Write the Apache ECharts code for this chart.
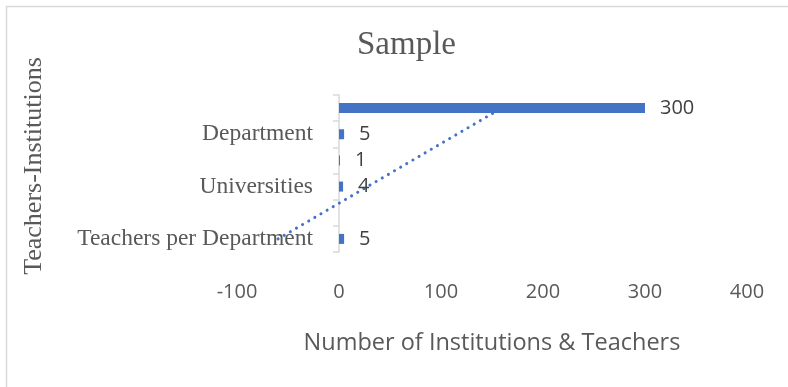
<!DOCTYPE html>
<html>
<head>
<meta charset="utf-8">
<script src="https://cdn.jsdelivr.net/npm/echarts@6/dist/echarts.min.js"></script>
<style>
  html, body { margin: 0; padding: 0; background: #fff; }
  #chart { width: 788px; height: 387px; }
</style>
</head>
<body>
<div id="chart"></div>
<script>
// Categories listed bottom to top; blank names are rows whose labels are skipped
const categories = ['Teachers per Department', ' ', 'Universities', '  ', 'Department', '   '];
const counts = [5, null, 4, 1, 5, 300];
const xTicks = { min: -100, max: 400, interval: 100 };

const chartTitle = 'Sample';
const xName = 'Number of Institutions & Teachers';
const yName = 'Teachers-Institutions';

// Linear trend of the counts against row position (blank rows skipped)
function linearTrend(values) {
  const pts = [];
  values.forEach((v, i) => { if (v != null) pts.push([i, v]); });
  const n = pts.length;
  const mx = pts.reduce((s, p) => s + p[0], 0) / n;
  const my = pts.reduce((s, p) => s + p[1], 0) / n;
  let sxy = 0, sxx = 0;
  pts.forEach(p => { sxy += (p[0] - mx) * (p[1] - my); sxx += (p[0] - mx) * (p[0] - mx); });
  const slope = sxy / sxx;
  const first = 0, last = values.length - 1;
  return [
    [my + (first - mx) * slope, first],
    [my + (last - mx) * slope, last]
  ];
}

const TEXT = '#595959';
const SERIF = '"Liberation Serif", "Times New Roman", serif';
const SANS = '"Open Sans", "Liberation Sans", sans-serif';
const BLUE = '#4472C4';

const chart = echarts.init(document.getElementById('chart'), null, { renderer: 'canvas' });
chart.setOption({
  animation: false,
  backgroundColor: '#fff',
  title: {
    text: chartTitle,
    left: 352,
    top: 24,
    textStyle: { fontFamily: SERIF, fontSize: 33, fontWeight: 'normal', color: TEXT }
  },
  graphic: [
    {
      type: 'rect',
      shape: { x: 6.5, y: 6.5, width: 800, height: 400 },
      style: { fill: 'none', stroke: '#d9d9d9', lineWidth: 1.5 },
      silent: true
    },
    {
      // vertical axis title, reading bottom to top
      type: 'text',
      x: 34,
      y: 166,
      rotation: Math.PI / 2,
      style: {
        text: yName,
        fill: TEXT,
        font: '26px ' + SERIF,
        align: 'center',
        verticalAlign: 'middle'
      },
      silent: true
    }
  ],
  grid: { left: 237, right: 41, top: 95, bottom: 135, containLabel: false, outerBoundsMode: 'none' },
  xAxis: {
    type: 'value',
    min: xTicks.min, max: xTicks.max, interval: xTicks.interval,
    axisLine: { show: false },
    axisTick: { show: false },
    splitLine: { show: false },
    axisLabel: { color: TEXT, fontFamily: SANS, fontSize: 20, margin: 30 },
    name: xName,
    nameLocation: 'middle',
    nameGap: 79,
    nameTextStyle: { color: TEXT, fontFamily: SANS, fontSize: 23.5 }
  },
  yAxis: {
    type: 'category',
    data: categories,
    axisLine: { onZero: true, lineStyle: { color: '#d9d9d9', width: 1.5 } },
    axisTick: { show: true, length: 6, lineStyle: { color: '#d9d9d9', width: 1.5 } },
    // labels sit just left of the axis line, which crosses at x = 0
    axisLabel: { interval: 0, color: TEXT, fontFamily: SERIF, fontSize: 23.5, margin: -76 },
    splitLine: { show: false }
  },
  series: [
    {
      type: 'line',
      data: linearTrend(counts),
      symbol: 'none',
      z: 1,
      lineStyle: { color: BLUE, width: 3, type: [0.1, 7], cap: 'round' },
      silent: true
    },
    {
      type: 'bar',
      data: counts,
      barWidth: 10,
      z: 2,
      itemStyle: { color: BLUE },
      label: {
        show: true,
        position: 'right',
        distance: 15,
        color: '#404040',
        fontFamily: SANS,
        fontSize: 20
      }
    }
  ]
});
</script>
</body>
</html>
